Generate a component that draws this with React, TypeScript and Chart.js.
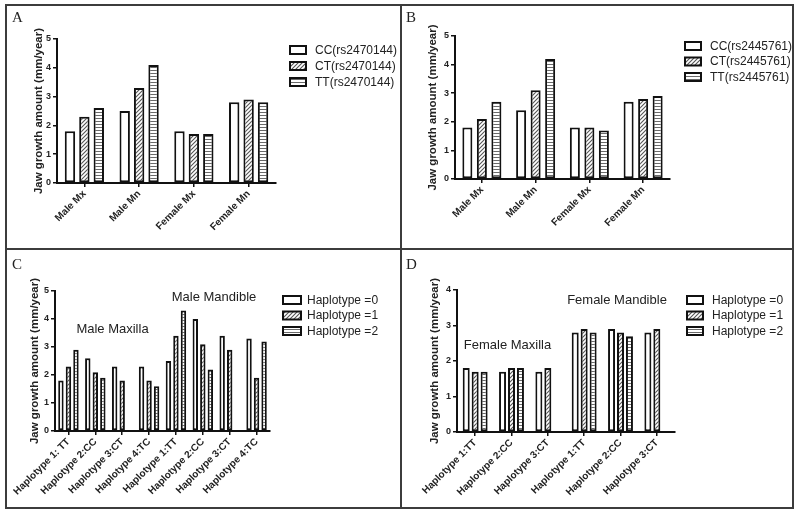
import React, { useEffect, useRef } from "react";
import { Chart, registerables } from "chart.js";
Chart.register(...registerables);

const FONT = "'Liberation Sans', Arial, Helvetica, sans-serif";
const SERIF = "'Liberation Serif', 'Times New Roman', serif";

// ---- data ----
const catsAB = ["Male Mx", "Male Mn", "Female Mx", "Female Mn"];
const seriesA = ["CC(rs2470144)", "CT(rs2470144)", "TT(rs2470144)"];
const aCC = [1.8, 2.5, 1.8, 2.8];
const aCT = [2.3, 3.3, 1.7, 2.9];
const aTT = [2.6, 4.1, 1.7, 2.8];

const seriesB = ["CC(rs2445761)", "CT(rs2445761)", "TT(rs2445761)"];
const bCC = [1.8, 2.4, 1.8, 2.7];
const bCT = [2.1, 3.1, 1.8, 2.8];
const bTT = [2.7, 4.2, 1.7, 2.9];

const catsC = [
  "Haplotype 1: TT", "Haplotype 2:CC", "Haplotype 3:CT", "Haplotype 4:TC",
  "Haplotype 1:TT", "Haplotype 2:CC", "Haplotype 3:CT", "Haplotype 4:TC",
];
const seriesHap = ["Haplotype =0", "Haplotype =1", "Haplotype =2"];
const cH0 = [1.8, 2.6, 2.3, 2.3, 2.5, 4.0, 3.4, 3.3];
const cH1 = [2.3, 2.1, 1.8, 1.8, 3.4, 3.1, 2.9, 1.9];
const cH2 = [2.9, 1.9, null, 1.6, 4.3, 2.2, null, 3.2];

const catsD = [
  "Haplotype 1:TT", "Haplotype 2:CC", "Haplotype 3:CT",
  "Haplotype 1:TT", "Haplotype 2:CC", "Haplotype 3:CT",
];
const dH0 = [1.8, 1.7, 1.7, 2.8, 2.9, 2.8];
const dH1 = [1.7, 1.8, 1.8, 2.9, 2.8, 2.9];
const dH2 = [1.7, 1.8, null, 2.8, 2.7, null];

const yTitle = "Jaw growth amount (mm/year)";

type Spec = {
  key: string;
  left: number; top: number; width: number; height: number;
  area: { left: number; top: number; right: number; bottom: number };
  labels: string[]; names: string[]; data: (number | null)[][];
  yMax: number; catPct: number; barPct: number; titlePad: number;
  legend: { x: number; y: number; row: number; tx: number; bw: number; bh: number };
  notes: { text: string; x: number; y: number }[];
};

const specs: Spec[] = [
  {
    key: "A", left: 7, top: 6, width: 393, height: 242,
    area: { left: 50, top: 33, right: 269, bottom: 177 },
    labels: catsAB, names: seriesA, data: [aCC, aCT, aTT],
    yMax: 5, catPct: 0.79, barPct: 0.72, titlePad: 25,
    legend: { x: 283, y: 44, row: 16, tx: 308, bw: 16, bh: 8 },
    notes: [],
  },
  {
    key: "B", left: 402, top: 6, width: 391, height: 242,
    area: { left: 53, top: 30, right: 268, bottom: 173 },
    labels: catsAB, names: seriesB, data: [bCC, bCT, bTT],
    yMax: 5, catPct: 0.81, barPct: 0.69, titlePad: 24,
    legend: { x: 283, y: 40, row: 15.5, tx: 308, bw: 16, bh: 8 },
    notes: [],
  },
  {
    key: "C", left: 7, top: 250, width: 393, height: 257,
    area: { left: 48, top: 41, right: 263, bottom: 181 },
    labels: catsC, names: seriesHap, data: [cH0, cH1, cH2],
    yMax: 5, catPct: 0.84, barPct: 0.72, titlePad: 21,
    legend: { x: 276, y: 50, row: 15.5, tx: 300, bw: 18, bh: 8 },
    notes: [
      { text: "Male Maxilla", x: 105.5, y: 79 },
      { text: "Male Mandible", x: 207, y: 47 },
    ],
  },
  {
    key: "D", left: 402, top: 250, width: 391, height: 257,
    area: { left: 55, top: 40, right: 273, bottom: 182 },
    labels: catsD, names: seriesHap, data: [dH0, dH1, dH2],
    yMax: 4, catPct: 0.74, barPct: 0.78, titlePad: 26,
    legend: { x: 285, y: 50, row: 15.5, tx: 310, bw: 16, bh: 8 },
    notes: [
      { text: "Female Maxilla", x: 105.5, y: 95 },
      { text: "Female Mandible", x: 215, y: 50 },
    ],
  },
];

function makePatterns(): (string | CanvasPattern)[] {
  const diag = document.createElement("canvas");
  diag.width = 4; diag.height = 4;
  const g = diag.getContext("2d")!;
  g.fillStyle = "#ffffff"; g.fillRect(0, 0, 4, 4);
  g.strokeStyle = "#555555"; g.lineWidth = 1.1;
  g.beginPath();
  g.moveTo(0, 4); g.lineTo(4, 0);
  g.moveTo(-1, 1); g.lineTo(1, -1);
  g.moveTo(3, 5); g.lineTo(5, 3);
  g.stroke();
  const hor = document.createElement("canvas");
  hor.width = 4; hor.height = 3;
  const h = hor.getContext("2d")!;
  h.fillStyle = "#ffffff"; h.fillRect(0, 0, 4, 3);
  h.fillStyle = "#6a6a6a"; h.fillRect(0, 1, 4, 1);
  const ctx = document.createElement("canvas").getContext("2d")!;
  return ["#ffffff", ctx.createPattern(diag, "repeat")!, ctx.createPattern(hor, "repeat")!];
}

const overlayPlugin = {
  id: "overlay",
  afterDraw(chart: any, _args: any, opts: any) {
    const ctx = chart.ctx as CanvasRenderingContext2D;
    const lg = opts.legend;
    ctx.save();
    chart.data.datasets.forEach((ds: any, i: number) => {
      const cy = lg.y + i * lg.row;
      ctx.fillStyle = ds.backgroundColor;
      ctx.fillRect(lg.x, cy - lg.bh / 2, lg.bw, lg.bh);
      ctx.lineWidth = 2;
      ctx.strokeStyle = "#111";
      ctx.strokeRect(lg.x, cy - lg.bh / 2, lg.bw, lg.bh);
      ctx.fillStyle = "#222";
      ctx.font = `12px ${FONT}`;
      ctx.textAlign = "left";
      ctx.textBaseline = "middle";
      ctx.fillText(ds.label, lg.tx, cy + 0.5);
    });
    (opts.notes || []).forEach((n: any) => {
      ctx.fillStyle = "#222";
      ctx.font = `13px ${FONT}`;
      ctx.textAlign = "center";
      ctx.textBaseline = "middle";
      ctx.fillText(n.text, n.x, n.y);
    });
    ctx.restore();
  },
};

function Panel({ s }: { s: Spec }) {
  const ref = useRef<HTMLCanvasElement>(null);
  useEffect(() => {
    const fills = makePatterns();
    const { area } = s;
    const chart = new Chart(ref.current!, {
      type: "bar",
      data: {
        labels: s.labels,
        datasets: s.names.map((name, i) => ({
          label: name,
          data: s.data[i],
          backgroundColor: fills[i],
          borderColor: "#111",
          borderWidth: 2,
          borderSkipped: false,
          categoryPercentage: s.catPct,
          barPercentage: s.barPct,
        })),
      },
      options: {
        responsive: false,
        animation: false,
        events: [],
        layout: {
          padding: { left: 0, top: area.top, right: s.width - area.right, bottom: 0 },
        },
        plugins: {
          legend: { display: false },
          tooltip: { enabled: false },
          overlay: { legend: s.legend, notes: s.notes },
        } as any,
        scales: {
          x: {
            afterFit: (sc: any) => { sc.height = s.height - area.bottom; },
            grid: {
              offset: false, drawOnChartArea: false, drawTicks: true,
              tickLength: 4, color: "#111", lineWidth: 1.5,
            },
            border: { display: true, color: "#111", width: 2 },
            ticks: {
              autoSkip: false, maxRotation: 45, minRotation: 45, padding: 1,
              color: "#222", font: { family: FONT, size: 10, weight: "bold" },
            },
          },
          y: {
            min: 0, max: s.yMax,
            afterFit: (sc: any) => { sc.width = area.left; },
            grid: {
              drawOnChartArea: false, drawTicks: true,
              tickLength: 4, color: "#111", lineWidth: 1.5,
            },
            border: { display: true, color: "#111", width: 2 },
            ticks: {
              stepSize: 1, padding: 2, color: "#222",
              font: { family: FONT, size: 9, weight: "bold" },
            },
            title: {
              display: true, text: yTitle, color: "#222",
              font: { family: FONT, size: 11.5, weight: "bold" },
              padding: { top: s.titlePad, bottom: 0 },
            },
          },
        },
      } as any,
      plugins: [overlayPlugin],
    });
    return () => chart.destroy();
  }, []);
  return (
    <canvas
      ref={ref}
      width={s.width}
      height={s.height}
      style={{ position: "absolute", left: s.left, top: s.top, width: s.width, height: s.height }}
    />
  );
}

const lineColor = "#3c3c3c";
const rules = [
  { left: 5, top: 4, width: 789, height: 2 },
  { left: 5, top: 507, width: 789, height: 2 },
  { left: 5, top: 4, width: 2, height: 505 },
  { left: 792, top: 4, width: 2, height: 505 },
  { left: 400, top: 4, width: 2, height: 505 },
  { left: 5, top: 248, width: 789, height: 2 },
];
const letters = [
  { t: "A", left: 12, top: 10 },
  { t: "B", left: 406, top: 10 },
  { t: "C", left: 12, top: 257 },
  { t: "D", left: 406, top: 257 },
];

export default function App() {
  return (
    <div style={{ position: "fixed", left: 0, top: 0, width: 800, height: 516, background: "#fff", overflow: "hidden" }}>
      {specs.map((s) => <Panel key={s.key} s={s} />)}
      {rules.map((r, i) => (
        <div key={i} style={{ position: "absolute", background: lineColor, ...r }} />
      ))}
      {letters.map((l) => (
        <div key={l.t} style={{ position: "absolute", left: l.left, top: l.top, fontFamily: SERIF, fontSize: 15, lineHeight: "15px", color: "#222" }}>{l.t}</div>
      ))}
    </div>
  );
}
